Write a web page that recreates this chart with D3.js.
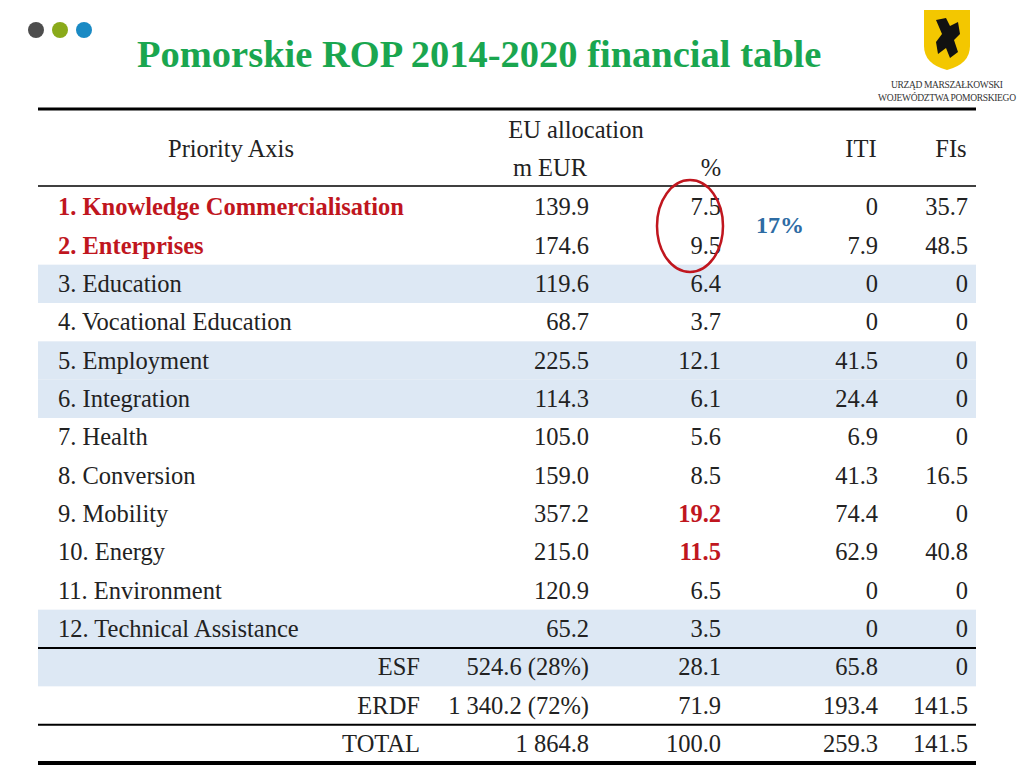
<!DOCTYPE html>
<html><head><meta charset="utf-8">
<script src="https://cdn.jsdelivr.net/npm/d3@7"></script>
<style>body{margin:0;background:#fff}svg{display:block}svg text{font-family:"Liberation Serif","Times New Roman",Times,serif}</style>
</head><body>
<script>
const axes = ["1. Knowledge Commercialisation","2. Enterprises","3. Education","4. Vocational Education","5. Employment","6. Integration","7. Health","8. Conversion","9. Mobility","10. Energy","11. Environment","12. Technical Assistance","ESF","ERDF","TOTAL"];
const mEUR = ["139.9","174.6","119.6","68.7","225.5","114.3","105.0","159.0","357.2","215.0","120.9","65.2","524.6 (28%)","1 340.2 (72%)","1 864.8"];
const pct = ["7.5","9.5","6.4","3.7","12.1","6.1","5.6","8.5","19.2","11.5","6.5","3.5","28.1","71.9","100.0"];
const iti = ["0","7.9","0","0","41.5","24.4","6.9","41.3","74.4","62.9","0","0","65.8","193.4","259.3"];
const fis = ["35.7","48.5","0","0","0","0","0","16.5","0","40.8","0","0","0","141.5","141.5"];
const shaded = [2,4,5,11,12];
const boldRed = [0,1];
const redPct = [8,9];

const W=1024,H=768, red="#c0161e";
const svg=d3.select("body").append("svg").attr("width",W).attr("height",H);

svg.selectAll("circle.dot").data(["#4d4d4d","#8aaa1a","#1a8ac4"]).join("circle")
  .attr("cx",(d,i)=>36+i*24).attr("cy",30).attr("r",8).attr("fill",d=>d);
svg.append("text").attr("x",137).attr("y",67).attr("fill","#1aa64f").attr("font-weight","bold")
  .attr("font-size",38.5).text("Pomorskie ROP 2014-2020 financial table");
const lg=svg.append("g").attr("transform","translate(924,10)");
lg.append("path").attr("d","M0,0 H46 V36 Q46,54 23,60 Q0,54 0,36 Z").attr("fill","#f3c700");
lg.append("path").attr("d","M12,10 L22,8 L26,16 L34,12 L36,24 L30,30 L34,42 L26,48 L22,38 L14,44 L12,32 L18,24 Z").attr("fill","#111");
lg.append("text").attr("x",23).attr("y",78).attr("text-anchor","middle").attr("font-size",9.5).attr("fill","#333").attr("textLength",112).text("URZĄD MARSZAŁKOWSKI");
lg.append("text").attr("x",23).attr("y",91).attr("text-anchor","middle").attr("font-size",9.5).attr("fill","#333").attr("textLength",138).text("WOJEWÓDZTWA POMORSKIEGO");

const x0=38,x1=976;
const y=d3.scaleBand().domain(d3.range(axes.length)).range([188,763]);
const rh=y.bandwidth();

svg.selectAll("rect.sh").data(shaded).join("rect")
  .attr("x",x0).attr("width",x1-x0).attr("y",d=>y(d)).attr("height",rh).attr("fill","#dde8f4");

const line=(yy,w)=>svg.append("line").attr("x1",x0).attr("x2",x1).attr("y1",yy).attr("y2",yy).attr("stroke","#000").attr("stroke-width",w);
line(109,3);line(186,1.5);line(y(12),2);line(y(14),2);line(763,4);

const fs=24.5;
const hdr=(t,xx,yy)=>svg.append("text").attr("x",xx).attr("y",yy).attr("text-anchor","middle").attr("font-size",fs).attr("fill","#222").text(t);
hdr("EU allocation",576,138);hdr("Priority Axis",231,157);hdr("m EUR",550,176);hdr("%",711,176);hdr("ITI",861,157);hdr("FIs",951,157);

const rows=svg.selectAll("g.row").data(d3.range(axes.length)).join("g").attr("transform",i=>`translate(0,${y(i)+rh/2+8})`);
rows.append("text").attr("x",i=>i<12?58:420).attr("text-anchor",i=>i<12?"start":"end").attr("font-size",fs)
  .attr("fill",i=>boldRed.includes(i)?red:"#222").attr("font-weight",i=>boldRed.includes(i)?"bold":"normal").text(i=>axes[i]);
const cols=[[mEUR,589],[pct,721],[iti,878],[fis,968]];
cols.forEach(([arr,xr],ci)=>{
  rows.append("text").attr("x",xr).attr("text-anchor","end").attr("font-size",fs)
   .attr("fill",i=>ci==1&&redPct.includes(i)?red:"#222").attr("font-weight",i=>ci==1&&redPct.includes(i)?"bold":"normal").text(i=>arr[i]);
});

svg.append("ellipse").attr("cx",690).attr("cy",226).attr("rx",33).attr("ry",46).attr("fill","none").attr("stroke",red).attr("stroke-width",2.5);
svg.append("text").attr("x",780).attr("y",233).attr("text-anchor","middle").attr("font-size",24).attr("font-weight","bold").attr("fill","#2e6ca4").text("17%");
</script>
</body></html>
